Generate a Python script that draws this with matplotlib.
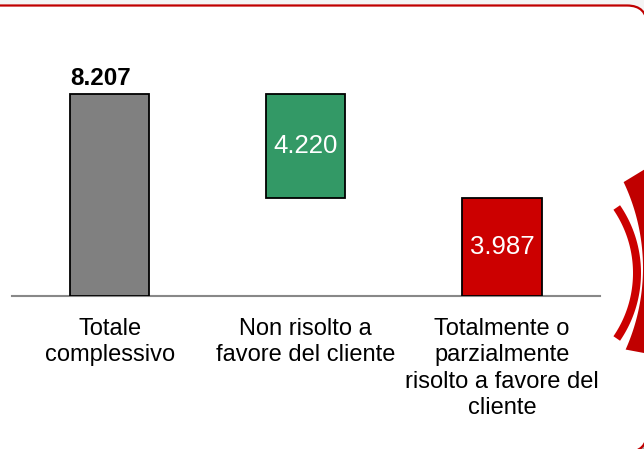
import matplotlib.pyplot as plt
from matplotlib.patches import FancyBboxPatch, Polygon
import numpy as np

plt.rcParams['font.family'] = ['Liberation Sans', 'DejaVu Sans']

# data
categories = ['Totale\ncomplessivo', 'Non risolto a\nfavore del cliente',
              'Totalmente o\nparzialmente\nrisolto a favore del\ncliente']
totale = 8207
non_risolto = 4220
risolto = 3987
value_labels = ['8.207', '4.220', '3.987']

heights = [totale, non_risolto, risolto]
bottoms = [0, totale - non_risolto, 0]
colors = ['#808080', '#339966', '#cc0000']

W, H = 644, 449
fig = plt.figure(figsize=(W / 100, H / 100), dpi=100, facecolor='#f4f4f4')

# background layer in pixel coords (y down)
bg = fig.add_axes([0, 0, 1, 1], zorder=0)
bg.set_xlim(0, W)
bg.set_ylim(H, 0)
bg.axis('off')

shadow = FancyBboxPatch((-40, 8), 690, 447, boxstyle='round,pad=0,rounding_size=20',
                        facecolor='#a6a6a6', edgecolor='none')
bg.add_patch(shadow)
frame = FancyBboxPatch((-40, 5.5), 687, 446.5, boxstyle='round,pad=0,rounding_size=20',
                       facecolor='white', edgecolor='#c00000', linewidth=1.6)
bg.add_patch(frame)

# red decoration on the right edge
t = np.linspace(-0.60, 0.60, 80)
outer = [(521 + 120 * np.cos(a), 273 + 120 * np.sin(a)) for a in t]
inner = [(521 + 112 * np.cos(a), 273 + 112 * np.sin(a)) for a in t[::-1]]
bg.add_patch(Polygon(outer + inner, closed=True, facecolor='#cc0000', edgecolor='none'))
t2 = np.linspace(-0.444, 0.42, 80)
thick = [(443 + 200 * np.cos(a), 268 + 200 * np.sin(a)) for a in t2]
thick += [(660, 356), (660, 160)]
bg.add_patch(Polygon(thick, closed=True, facecolor='#c00000', edgecolor='none'))

ax = fig.add_axes([11.5 / W, (H - 296) / H, 588.5 / W, 221.5 / H], zorder=1)
ax.set_facecolor('none')
x = np.arange(len(categories))
ax.bar(x, heights, bottom=bottoms, width=0.405, color=colors,
       edgecolor='black', linewidth=1.3, zorder=3)

ax.set_xlim(-0.5, 2.5)
ax.set_ylim(0, 9000)
for s in ['top', 'right', 'left']:
    ax.spines[s].set_visible(False)
ax.spines['bottom'].set_color('#888888')
ax.spines['bottom'].set_linewidth(1.5)
ax.set_yticks([])
ax.set_xticks(x)
ax.set_xticklabels(categories, fontsize=17, linespacing=1.27)
ax.tick_params(axis='x', length=0, pad=15.5)

ax.text(x[0] - 0.045, totale + 150, value_labels[0], ha='center', va='bottom',
        fontsize=17.5, fontweight='bold', color='black')
ax.text(x[1], bottoms[1] + non_risolto / 2, value_labels[1], ha='center',
        va='center', fontsize=18.5, color='white', zorder=4)
ax.text(x[2], risolto / 2, value_labels[2], ha='center', va='center',
        fontsize=18.5, color='white', zorder=4)

fig.savefig('out.png', dpi=100, facecolor=fig.get_facecolor())
